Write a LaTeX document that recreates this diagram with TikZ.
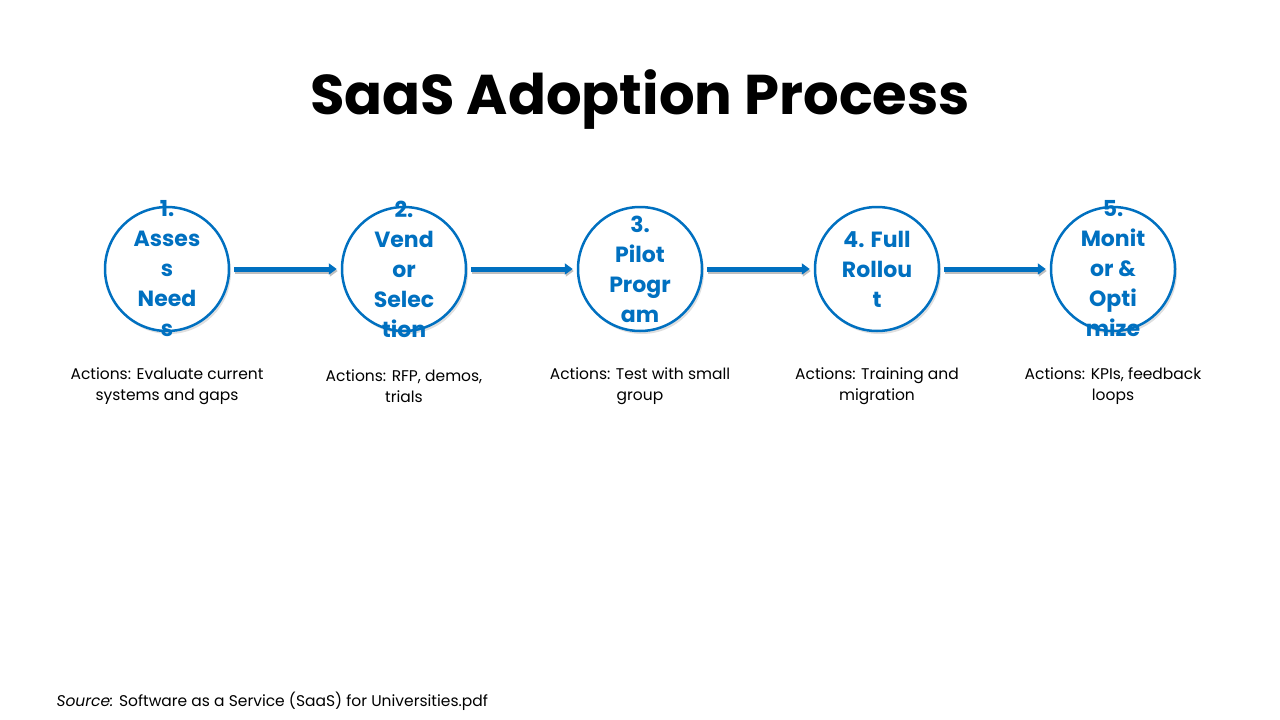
\documentclass[tikz,border=0pt]{standalone}
\usepackage{fontspec}
\setmainfont{Poppins}
\usetikzlibrary{shadows,arrows.meta}
\definecolor{sblue}{HTML}{0070C0}
\tikzset{
  stage/.style={circle,draw=sblue,line width=2.5pt,fill=white,minimum size=124pt,inner sep=0pt,
    drop shadow={shadow xshift=2pt,shadow yshift=-3pt,opacity=0.25},
    label={[text=sblue,font=\fontsize{22}{30}\selectfont\bfseries,align=center]center:#1}},
  act/.style={font=\fontsize{15.5}{21}\selectfont,align=center,text=black},
  flow/.style={draw=sblue,line width=5pt,-{Triangle[length=8pt,width=11pt]},
    preaction={draw=black!25,line width=5pt,transform canvas={xshift=1pt,yshift=-2pt}}}
}
\begin{document}
\begin{tikzpicture}[x=1pt,y=-1pt]
\useasboundingbox (0,0) rectangle (1280,720);
\node[font=\fontsize{56}{62}\selectfont\bfseries] (title) at (640,100) {SaaS Adoption Process};
\node[stage={1.\\Asses\\s\\Need\\s}] (s1) at (167,269) {};
\node[stage={2.\\Vend\\or\\Selec\\tion}] (s2) at (404,269) {};
\node[stage={3.\\Pilot\\Progr\\am}] (s3) at (640,269) {};
\node[stage={4. Full\\Rollou\\t}] (s4) at (877,269) {};
\node[stage={5.\\Monit\\or \&\\Opti\\mize}] (s5) at (1113,269) {};
\foreach \a/\b in {s1/s2,s2/s3,s3/s4,s4/s5}
  \draw[flow] ([xshift=4pt]\a.east) -- ([xshift=-4pt]\b.west);
\node[act] (a1) at (167,386) {Actions: Evaluate current\\systems and gaps};
\node[act] (a2) at (404,386) {Actions: RFP, demos,\\trials};
\node[act] (a3) at (640,386) {Actions: Test with small\\group};
\node[act] (a4) at (877,386) {Actions: Training and\\migration};
\node[act] (a5) at (1113,386) {Actions: KPIs, feedback\\loops};
\node[act,anchor=west] (src) at (53,701) {\textit{Source:} Software as a Service (SaaS) for Universities.pdf};
\end{tikzpicture}
\end{document}
